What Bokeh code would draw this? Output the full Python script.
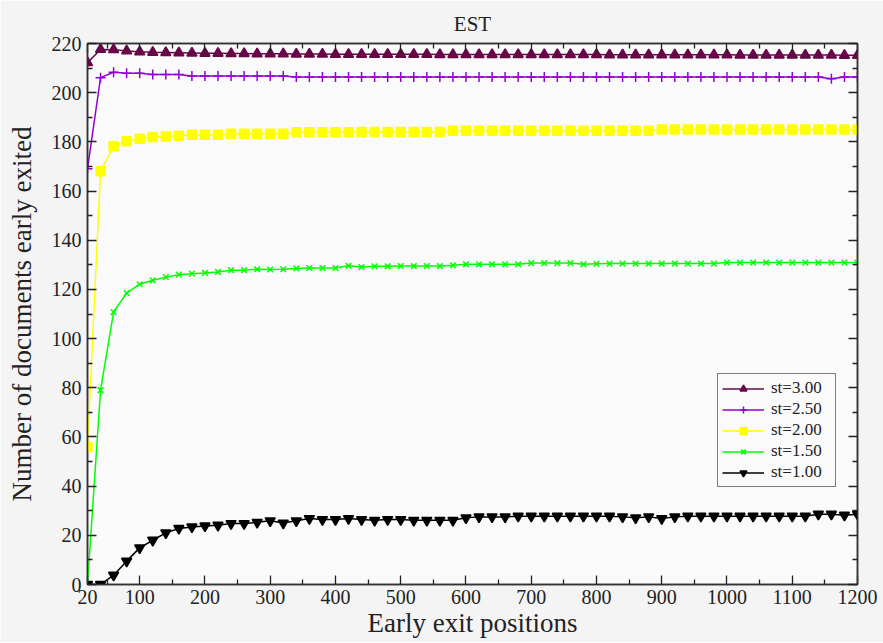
from bokeh.plotting import figure
from bokeh.models import LinearAxis, FixedTicker, Legend, LegendItem, Range1d, CustomJSTickFormatter
from bokeh.embed import file_html
from bokeh.resources import INLINE

title = "EST"
x_label = "Early exit positions"
y_label = "Number of documents early exited"

positions = [20, 40, 60, 80, 100, 120, 140, 160, 180, 200,
             220, 240, 260, 280, 300, 320, 340, 360, 380, 400,
             420, 440, 460, 480, 500, 520, 540, 560, 580, 600,
             620, 640, 660, 680, 700, 720, 740, 760, 780, 800,
             820, 840, 860, 880, 900, 920, 940, 960, 980, 1000,
             1020, 1040, 1060, 1080, 1100, 1120, 1140, 1160, 1180, 1200]

st_300 = [212.2, 217.6, 217.5, 217.0, 216.6, 216.4, 216.3, 216.2, 216.1, 216.0,
          216.0, 215.9, 215.9, 215.8, 215.8, 215.8, 215.7, 215.7, 215.7, 215.6,
          215.6, 215.6, 215.6, 215.6, 215.6, 215.6, 215.6, 215.5, 215.5, 215.5,
          215.5, 215.5, 215.5, 215.5, 215.5, 215.5, 215.5, 215.5, 215.5, 215.5,
          215.4, 215.4, 215.4, 215.4, 215.4, 215.4, 215.4, 215.4, 215.4, 215.4,
          215.3, 215.3, 215.3, 215.3, 215.3, 215.3, 215.3, 215.3, 215.2, 215.2]

st_250 = [169.1, 206.1, 208.3, 207.9, 207.9, 207.4, 207.4, 207.4, 206.8, 206.8,
          206.8, 206.8, 206.8, 206.8, 206.8, 206.8, 206.4, 206.4, 206.4, 206.4,
          206.4, 206.4, 206.4, 206.4, 206.4, 206.4, 206.4, 206.4, 206.4, 206.4,
          206.4, 206.4, 206.4, 206.4, 206.4, 206.4, 206.4, 206.4, 206.4, 206.4,
          206.4, 206.4, 206.4, 206.4, 206.4, 206.4, 206.4, 206.4, 206.4, 206.4,
          206.4, 206.4, 206.4, 206.4, 206.4, 206.4, 206.4, 205.7, 206.4, 206.4]

st_200 = [55.9, 168.1, 178.2, 180.2, 181.3, 182.0, 182.2, 182.5, 182.9, 182.9,
          182.9, 183.3, 183.3, 183.3, 183.3, 183.3, 183.9, 183.9, 183.9, 183.9,
          183.9, 184.0, 184.0, 184.0, 184.0, 184.0, 184.0, 184.0, 184.5, 184.5,
          184.5, 184.5, 184.5, 184.5, 184.5, 184.5, 184.5, 184.5, 184.5, 184.5,
          184.5, 184.5, 184.5, 184.5, 185.0, 185.0, 185.0, 185.0, 185.0, 185.0,
          185.0, 185.0, 185.0, 185.0, 185.0, 185.0, 185.0, 185.0, 185.0, 185.0]

st_150 = [0.0, 79.0, 110.8, 118.5, 122.1, 123.7, 125.0, 126.0, 126.4, 126.7,
          127.1, 127.8, 127.8, 128.2, 128.1, 128.2, 128.5, 128.7, 128.7, 128.7,
          129.6, 129.1, 129.4, 129.4, 129.5, 129.5, 129.5, 129.5, 129.8, 130.2,
          130.2, 130.2, 130.2, 130.2, 130.7, 130.7, 130.7, 130.7, 130.2, 130.4,
          130.5, 130.5, 130.5, 130.5, 130.5, 130.5, 130.5, 130.5, 130.5, 130.9,
          130.9, 130.9, 130.9, 130.9, 130.9, 130.9, 130.9, 130.9, 130.9, 130.9]

st_100 = [0.0, 0.0, 3.8, 9.5, 14.9, 18.0, 21.0, 22.8, 23.4, 23.8,
          24.1, 24.8, 24.8, 25.3, 25.9, 25.0, 25.9, 26.8, 26.4, 26.4,
          26.8, 26.4, 26.1, 26.4, 26.4, 26.1, 26.1, 26.1, 26.1, 27.1,
          27.5, 27.5, 27.5, 27.8, 27.8, 27.8, 27.8, 27.8, 27.8, 27.8,
          27.8, 27.5, 27.1, 27.5, 26.8, 27.5, 27.8, 27.8, 27.8, 27.8,
          27.8, 27.8, 27.8, 27.8, 27.8, 27.8, 28.6, 28.6, 28.2, 28.6]

series_labels = ["st=3.00", "st=2.50", "st=2.00", "st=1.50", "st=1.00"]
x_ticks = [20, 100, 200, 300, 400, 500, 600, 700, 800, 900, 1000, 1100, 1200]
x_minor = [50, 150, 250, 350, 450, 550, 650, 750, 850, 950, 1050, 1150]
y_ticks = [0, 20, 40, 60, 80, 100, 120, 140, 160, 180, 200, 220]
y_minor = [10, 30, 50, 70, 90, 110, 130, 150, 170, 190, 210]

FONT = "Liberation Serif"

p = figure(frame_width=770, frame_height=541, output_backend="svg",
           toolbar_location=None, x_range=Range1d(20, 1200), y_range=Range1d(0, 220),
           min_border_left=87, min_border_right=26, min_border_top=43, min_border_bottom=58,
           background_fill_color="#fafafa", border_fill_color="#f4f4f4",
           outline_line_color="#333333", outline_line_width=1.5)

p.title.text = title
p.title.align = "center"
p.title.text_font = FONT
p.title.text_font_size = "21px"
p.title.text_font_style = "normal"
p.title.text_color = "#222222"
p.title.standoff = 16

p.xgrid.visible = False
p.ygrid.visible = False

def style_axis(ax):
    ax.axis_line_color = "#333333"
    ax.axis_line_width = 1.5
    ax.major_tick_line_color = "#222222"
    ax.minor_tick_line_color = "#222222"
    ax.major_tick_in = 9
    ax.major_tick_out = 0
    ax.minor_tick_in = 5
    ax.minor_tick_out = 0
    ax.major_tick_line_width = 1.3
    ax.minor_tick_line_width = 1.3
    ax.major_label_text_font = FONT
    ax.major_label_text_font_size = "20px"
    ax.major_label_text_color = "#222222"
    ax.axis_label_text_font = FONT
    ax.axis_label_text_font_size = "27px"
    ax.axis_label_text_font_style = "normal"
    ax.axis_label_text_color = "#222222"

p.xaxis.ticker = FixedTicker(ticks=x_ticks, minor_ticks=x_minor)
p.yaxis.ticker = FixedTicker(ticks=y_ticks, minor_ticks=y_minor)
p.xaxis.axis_label = x_label
p.yaxis.axis_label = y_label
style_axis(p.xaxis[0])
style_axis(p.yaxis[0])
p.xaxis.major_label_standoff = 5
p.yaxis.major_label_standoff = 6
p.xaxis.axis_label_standoff = 1
p.yaxis.axis_label_standoff = 12

blank = CustomJSTickFormatter(code="return '';")
top = LinearAxis(ticker=FixedTicker(ticks=x_ticks, minor_ticks=x_minor), formatter=blank)
style_axis(top)
top.major_label_standoff = 0
p.add_layout(top, "above")
right = LinearAxis(ticker=FixedTicker(ticks=y_ticks, minor_ticks=y_minor), formatter=blank)
style_axis(right)
right.major_label_standoff = 0
p.add_layout(right, "right")

specs = [
    (st_300, "#670748", "triangle", 10),
    (st_250, "#9400d3", "cross", 10),
    (st_200, "#ffff00", "square", 9),
    (st_150, "#00ff00", "x", 8),
    (st_100, "#000000", "inverted_triangle", 10),
]

items = []
for (vals, color, marker, size), label in zip(specs, series_labels):
    ln = p.line(positions, vals, line_color=color, line_width=1.5)
    sc = p.scatter(positions, vals, marker=marker, size=size, line_color=color,
                   fill_color=color, line_width=1.5)
    items.append(LegendItem(label=label, renderers=[ln, sc]))

legend = Legend(items=items, location=(630, 97),
                label_text_font=FONT, label_text_font_size="17px",
                label_text_color="#222222",
                glyph_width=42, glyph_height=17, label_height=17, label_width=60,
                spacing=1, padding=4, margin=0, label_standoff=7,
                border_line_color="#000000", border_line_width=1.3,
                background_fill_color="#fafafa", background_fill_alpha=1.0)
p.add_layout(legend, "center")

open("out.html", "w").write(file_html(p, INLINE))
